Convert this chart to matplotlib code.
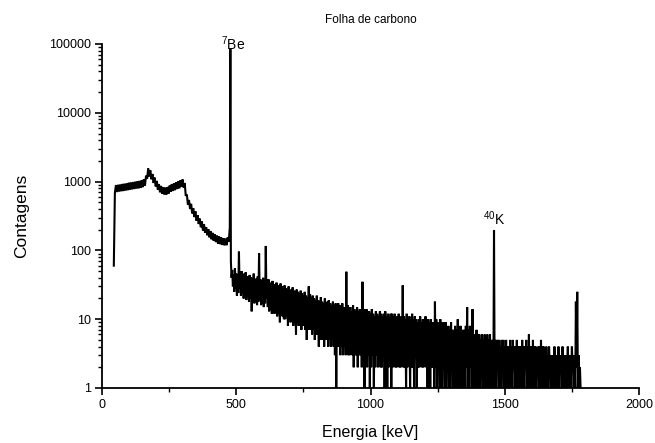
import numpy as np
import matplotlib
matplotlib.use("Agg")
import matplotlib.pyplot as plt
from matplotlib.ticker import FixedLocator, FuncFormatter, LogLocator, NullFormatter

plt.rcParams['font.family'] = ['Liberation Sans', 'DejaVu Sans']
plt.rcParams['mathtext.fontset'] = 'custom'
plt.rcParams['mathtext.rm'] = 'Liberation Sans'
plt.rcParams['mathtext.it'] = 'Liberation Sans:italic'

# ---- data ----
first_energy = 44
first_count = 60

# low-energy continuum (48-476 keV, 4 keV channel groups)
low_start, low_step = 48, 4
counts_low = [690, 890, 705, 900, 715, 910, 725, 925, 730, 935,
              740, 945, 750, 965, 760, 975, 770, 985, 780, 1000,
              790, 1015, 795, 1025, 810, 1045, 830, 1080, 875, 1220,
              1100, 1550, 1190, 1460, 1080, 1290, 955, 1145, 850, 1025,
              760, 920, 700, 865, 665, 830, 645, 820, 650, 835,
              670, 875, 710, 920, 730, 945, 750, 975, 780, 1015,
              800, 1045, 840, 1075, 820, 955, 620, 650, 460, 540,
              400, 475, 345, 410, 305, 370, 270, 325, 242, 290,
              217, 263, 195, 238, 180, 218, 166, 204, 155, 191,
              145, 180, 138, 171, 132, 164, 126, 159, 123, 154,
              120, 150, 118, 149, 119, 154, 133, 215]

# 7Be photopeak
be7_energy = 478
be7_count = 87000

# high-energy part (480-1780 keV): upper and lower values of each 5 keV group
high_start, high_step = 480, 5
counts_high_upper = [
    70, 52, 45, 55, 46, 44, 96, 45, 50, 42, 46, 48, 41, 42, 44, 41, 39, 46, 38, 39,
    42, 91, 38, 37, 40, 37, 116, 35, 38, 34, 32, 36, 31, 32, 34, 31, 30, 33, 30, 28,
    31, 28, 27, 30, 26, 27, 29, 26, 25, 27, 25, 24, 26, 24, 22, 25, 22, 21, 30, 23,
    21, 22, 20, 19, 22, 19, 18, 21, 18, 17, 20, 17, 18, 19, 17, 16, 18, 16, 17, 16,
    17, 16, 15, 17, 15, 14, 49, 16, 14, 15, 13, 16, 14, 13, 15, 13, 14, 13, 35, 14,
    13, 14, 12, 13, 12, 14, 12, 11, 13, 12, 11, 13, 12, 11, 12, 13, 11, 12, 11, 12,
    12, 11, 12, 10, 11, 12, 10, 11, 31, 11, 10, 12, 10, 11, 10, 12, 10, 11, 10, 9,
    10, 11, 9, 10, 9, 11, 9, 10, 9, 10, 9, 9, 18, 10, 9, 8, 10, 9, 8, 9,
    9, 7, 8, 7, 9, 7, 7, 8, 7, 10, 7, 8, 6, 7, 7, 8, 15, 7, 8, 6,
    14, 6, 6, 7, 6, 6, 5, 6, 5, 6, 5, 6, 5, 6, 5, 5, 198, 5, 5, 5,
    5, 4, 5, 5, 4, 5, 4, 4, 5, 4, 5, 4, 4, 5, 4, 4, 4, 5, 4, 4,
    5, 4, 6, 4, 4, 5, 4, 4, 3, 4, 4, 5, 4, 4, 3, 4, 3, 4, 3, 3,
    3, 4, 3, 3, 4, 3, 3, 4, 3, 3, 3, 4, 3, 3, 4, 3, 3, 18, 25, 3,
    2]
counts_high_lower = [
    40, 30, 25, 28, 22, 24, 28, 22, 24, 20, 22, 19, 21, 18, 20, 13, 19, 17, 18, 16,
    18, 20, 16, 17, 15, 17, 20, 15, 13, 14, 12, 14, 12, 13, 11, 12, 9, 12, 11, 10,
    10, 11, 8, 10, 9, 10, 8, 9, 6, 9, 8, 9, 7, 8, 8, 7, 5, 8, 7, 7,
    6, 7, 5, 6, 6, 4, 6, 5, 6, 4, 5, 5, 4, 5, 4, 5, 4, 3, 1, 4,
    4, 3, 4, 3, 4, 3, 4, 3, 3, 4, 3, 2, 3, 3, 2, 3, 3, 2, 3, 1,
    3, 2, 3, 1, 2, 3, 1, 2, 3, 2, 3, 2, 2, 3, 1, 2, 1, 2, 3, 1,
    2, 3, 2, 2, 3, 2, 2, 3, 2, 2, 1, 2, 3, 1, 2, 2, 1, 3, 1, 2,
    2, 3, 2, 2, 3, 2, 1, 2, 1, 2, 2, 1, 2, 1, 2, 1, 2, 1, 2, 1,
    1, 2, 1, 1, 2, 1, 1, 1, 2, 1, 1, 2, 1, 1, 1, 2, 1, 1, 2, 1,
    1, 1, 2, 1, 1, 1, 2, 1, 1, 1, 1, 2, 1, 1, 2, 1, 1, 1, 2, 1,
    1, 1, 2, 1, 1, 1, 2, 1, 1, 1, 2, 1, 1, 1, 1, 2, 1, 1, 1, 2,
    1, 1, 1, 2, 1, 1, 1, 1, 2, 1, 1, 1, 2, 1, 1, 1, 1, 2, 1, 1,
    1, 2, 1, 1, 1, 2, 1, 1, 1, 1, 2, 1, 1, 1, 2, 1, 1, 2, 1, 1,
    1]

x_ticks = [0, 500, 1000, 1500, 2000]
x_minor_ticks = [250, 750, 1250, 1750]
y_ticks = [1, 10, 100, 1000, 10000, 100000]
title = "Folha de carbono"
xlabel = "Energia [keV]"
ylabel = "Contagens"

# ---- assemble spectrum ----
energy_low = low_start + low_step * np.arange(len(counts_low))
n_high = len(counts_high_upper)
energy_high = np.empty(2 * n_high)
energy_high[0::2] = high_start + high_step * np.arange(n_high)
energy_high[1::2] = high_start + high_step * np.arange(n_high) + high_step / 2
counts_high = np.empty(2 * n_high)
counts_high[0::2] = counts_high_upper
counts_high[1::2] = counts_high_lower

energy = np.concatenate([[first_energy], energy_low, [be7_energy], energy_high])
counts = np.concatenate([[first_count], counts_low, [be7_count], counts_high])

fig = plt.figure(figsize=(6.55, 4.43), dpi=100)
ax = fig.add_axes([102 / 655, 1 - 388 / 443, (639 - 102) / 655, (388 - 44) / 443])

ax.plot(energy, counts, color='black', lw=1.5, solid_joinstyle='miter')

ax.set_yscale('log')
ax.set_xlim(0, 2000)
ax.set_ylim(1, 100000)

ax.spines['top'].set_visible(False)
ax.spines['right'].set_visible(False)
for s in ('left', 'bottom'):
    ax.spines[s].set_linewidth(1.3)

ax.xaxis.set_major_locator(FixedLocator(x_ticks))
ax.xaxis.set_minor_locator(FixedLocator(x_minor_ticks))
ax.yaxis.set_major_locator(FixedLocator(y_ticks))
ax.yaxis.set_minor_locator(LogLocator(base=10, subs=np.arange(2, 10), numticks=20))
ax.yaxis.set_minor_formatter(NullFormatter())
ax.yaxis.set_major_formatter(FuncFormatter(lambda v, p: f"{int(round(v))}"))

ax.tick_params(axis='both', which='major', direction='out', length=5, width=1.2,
               labelsize=9, pad=3)
ax.tick_params(axis='both', which='minor', direction='out', length=3, width=1.0)

ax.set_title(title, fontsize=8.5, pad=15)
ax.set_xlabel(xlabel, fontsize=11.5, labelpad=10)
ax.set_ylabel(ylabel, fontsize=12.5)
ax.yaxis.set_label_coords(-0.135, 0.5)

ax.text(442, 1.0e5, r'$^{7}$Be', fontsize=10, va='center', ha='left')
ax.text(1418, 290, r'$^{40}$K', fontsize=10, va='center', ha='left')

fig.savefig('out.png', dpi=100)
